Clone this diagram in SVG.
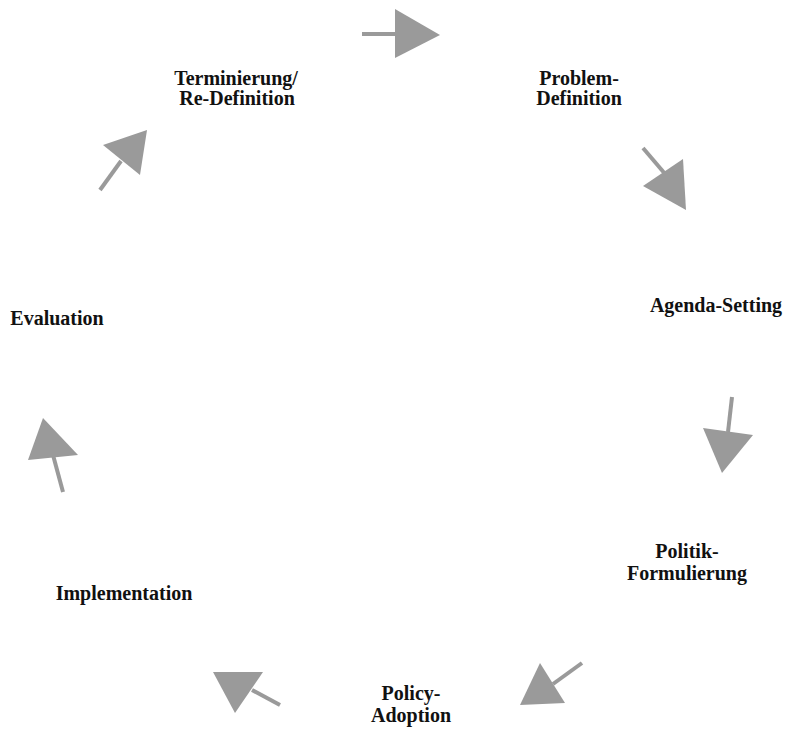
<svg xmlns="http://www.w3.org/2000/svg" width="792" height="734" viewBox="0 0 792 734">
<style>
.lbl{font-family:"Liberation Serif","Times New Roman",serif;font-weight:bold;font-size:20px;fill:#111;text-anchor:middle}
.shaft{stroke:#9a9a9a;stroke-width:4;fill:none}
.head{fill:#9a9a9a;stroke:none}
</style>
<rect width="792" height="734" fill="#fff"/>
<g id="connectors">
<line class="shaft" x1="362" y1="34" x2="397" y2="34"/>
<polygon class="head" points="395,9 440,35 395,58"/>
<line class="shaft" x1="643" y1="148" x2="666" y2="175"/>
<polygon class="head" points="683,159 686,210 643,186"/>
<line class="shaft" x1="732" y1="397" x2="728" y2="432"/>
<polygon class="head" points="703,428 753,435 722,473"/>
<line class="shaft" x1="582" y1="663" x2="553" y2="684"/>
<polygon class="head" points="540,663 565,703 520,705"/>
<line class="shaft" x1="280" y1="705" x2="252" y2="690"/>
<polygon class="head" points="213,672 263,672 235,713"/>
<line class="shaft" x1="63" y1="492" x2="53" y2="455"/>
<polygon class="head" points="43,418 78,455 28,460"/>
<line class="shaft" x1="100" y1="190" x2="121" y2="161"/>
<polygon class="head" points="147,130 140,175 103,145"/>
</g>
<g id="node-problem"><text class="lbl" x="579" y="85">Problem-</text><text class="lbl" x="579" y="105">Definition</text></g>
<g id="node-agenda"><text class="lbl" x="716" y="312">Agenda-Setting</text></g>
<g id="node-politik"><text class="lbl" x="687" y="558">Politik-</text><text class="lbl" x="687" y="580">Formulierung</text></g>
<g id="node-policy"><text class="lbl" x="411" y="700">Policy-</text><text class="lbl" x="411" y="722">Adoption</text></g>
<g id="node-implementation"><text class="lbl" x="124" y="600">Implementation</text></g>
<g id="node-evaluation"><text class="lbl" x="57" y="325">Evaluation</text></g>
<g id="node-terminierung"><text class="lbl" x="236" y="85">Terminierung/</text><text class="lbl" x="237" y="105">Re-Definition</text></g>
</svg>
